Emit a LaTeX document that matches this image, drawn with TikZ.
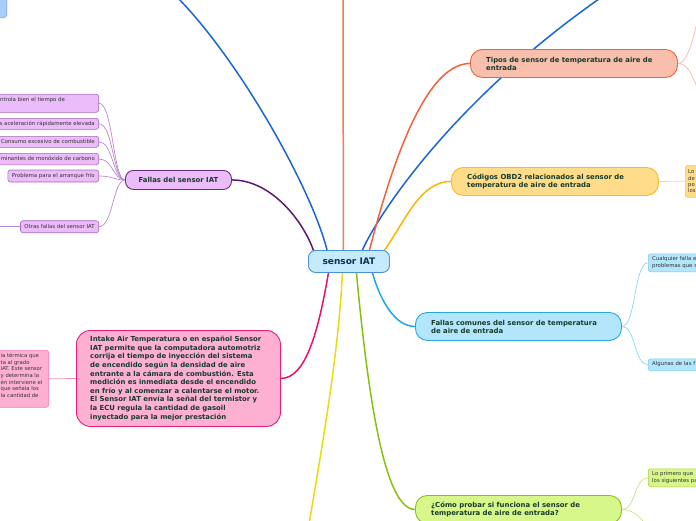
\documentclass[tikz,border=0pt]{standalone}
\usepackage{fontspec}
\setmainfont{DejaVu Sans}
\usetikzlibrary{calc}
\pgfdeclarelayer{bg}
\pgfsetlayers{bg,main}
\definecolor{txt}{HTML}{173A2B}
\definecolor{ctrtxt}{HTML}{14305A}
\definecolor{leaftxt}{HTML}{333333}
\definecolor{ctrfill}{HTML}{C4EAFB}
\definecolor{ctrdraw}{HTML}{4A92CF}
\definecolor{purfill}{HTML}{EBBCF9}
\definecolor{purdraw}{HTML}{6A2A80}
\definecolor{purleafdraw}{HTML}{A468C0}
\definecolor{purline}{HTML}{5A1A6E}
\definecolor{purlight}{HTML}{B888CC}
\definecolor{pinkfill}{HTML}{FEB0D3}
\definecolor{pinkdraw}{HTML}{EA1E78}
\definecolor{pinkleafdraw}{HTML}{F27AB0}
\definecolor{pinkline}{HTML}{EC0E6E}
\definecolor{pinklight}{HTML}{F490BC}
\definecolor{salfill}{HTML}{F9BFAD}
\definecolor{saldraw}{HTML}{F0643C}
\definecolor{salline}{HTML}{F4603A}
\definecolor{sallight}{HTML}{F8B8A4}
\definecolor{orvert}{HTML}{F47A50}
\definecolor{yelfill}{HTML}{FEDC8A}
\definecolor{yeldraw}{HTML}{F9B928}
\definecolor{yelleafdraw}{HTML}{F8C850}
\definecolor{yelline}{HTML}{FFB400}
\definecolor{yellight}{HTML}{FDD88A}
\definecolor{cyfill}{HTML}{B3E6FB}
\definecolor{cydraw}{HTML}{2AA4E4}
\definecolor{cyleafdraw}{HTML}{7CC8F0}
\definecolor{cyline}{HTML}{1AA8EC}
\definecolor{cylight}{HTML}{8ED4F4}
\definecolor{grfill}{HTML}{D8F78A}
\definecolor{grdraw}{HTML}{8CBF1E}
\definecolor{grleafdraw}{HTML}{A8D050}
\definecolor{grline}{HTML}{88C010}
\definecolor{grlight}{HTML}{C4E480}
\definecolor{blline}{HTML}{1A64D8}
\definecolor{blfill}{HTML}{A9CDFB}
\definecolor{bldraw}{HTML}{7AAAF0}
\definecolor{ytline}{HTML}{E8DC10}
\tikzset{
  mainbox/.style={draw, line width=0.9pt, rounded corners=12pt, anchor=north west, inner sep=0pt},
  leafbox/.style={draw, line width=0.6pt, rounded corners=2.5pt, inner sep=0pt},
  maintext/.style={anchor=west, inner sep=0pt, align=left, text=txt, font=\bfseries\fontsize{6.9}{8}\selectfont},
  leaftext/.style={anchor=west, inner sep=0pt, align=left, text=leaftxt, font=\fontsize{5.4}{6.7}\selectfont},
  conn/.style={line width=1.5pt},
  sub/.style={line width=0.7pt},
}
\begin{document}
\begin{tikzpicture}[x=1pt,y=-1pt]
\useasboundingbox (0,0) rectangle (696,520);
\begin{scope}
\clip (0,0) rectangle (696,520);
% centre
\node[draw=ctrdraw, fill=ctrfill, line width=0.9pt, rounded corners=7pt, minimum width=81pt, minimum height=22pt, inner sep=0pt, anchor=north west, text=ctrtxt, font=\bfseries\fontsize{9}{10}\selectfont] (c) at (308,250) {sensor IAT};
% top-left partial node
\node[leafbox, fill=blfill, draw=bldraw, anchor=south east, minimum width=30pt, minimum height=30pt, rounded corners=3pt] (tl) at (7,18) {};
% Fallas del sensor IAT
\node[mainbox, fill=purfill, draw=purdraw, rounded corners=8pt, minimum width=106pt, minimum height=19pt, text=txt, font=\bfseries\fontsize{6.9}{8}\selectfont] (fi) at (125,170) {Fallas del sensor IAT};
\node[leafbox, fill=purfill, draw=purleafdraw, anchor=north east, minimum width=115pt, minimum height=18pt] (fa) at (99,94) {};
\node[leaftext] (fat) at (0,100) {ntrola bien el tiempo de};
\node[leafbox, fill=purfill, draw=purleafdraw, anchor=north east, minimum width=115pt, minimum height=11pt] (fb) at (99,118) {};
\node[leaftext, anchor=east] (fbt) at (95,123.5) {s aceleración rápidamente elevada};
\node[leafbox, fill=purfill, draw=purleafdraw, anchor=north east, minimum width=115pt, minimum height=11pt] (fc) at (99,136) {};
\node[leaftext, anchor=east] (fct) at (95,141.5) {Consumo excesivo de combustible};
\node[leafbox, fill=purfill, draw=purleafdraw, anchor=north east, minimum width=115pt, minimum height=11.5pt] (fd) at (99,153) {};
\node[leaftext, anchor=east] (fdt) at (95,158.7) {minantes de monóxido de carbono};
\node[leafbox, fill=purfill, draw=purleafdraw, anchor=east, minimum height=12pt, inner xsep=4pt, text=leaftxt, font=\fontsize{5.4}{6.7}\selectfont] (fe) at (99,176) {Problema para el arranque frío};
\node[leafbox, fill=purfill, draw=purleafdraw, anchor=east, minimum height=12pt, inner xsep=4pt, text=leaftxt, font=\fontsize{5.4}{6.7}\selectfont] (ff) at (99,226.7) {Otras fallas del sensor IAT};
% Intake
\node[mainbox, fill=pinkfill, draw=pinkdraw, rounded corners=14pt, minimum width=204pt, minimum height=96pt] (in) at (76,330) {};
\node[maintext, font=\bfseries\fontsize{6.9}{8.6}\selectfont] (int) at (90,378.5) {Intake Air Temperatura o en español Sensor\\IAT permite que la computadora automotriz\\corrija el tiempo de inyección del sistema\\de encendido según la densidad de aire\\entrante a la cámara de combustión. Esta\\medición es inmediata desde el encendido\\en frío y al comenzar a calentarse el motor.\\El Sensor IAT envía la señal del termistor y\\la ECU regula la cantidad de gasoil\\inyectado para la mejor prestación};
\node[leafbox, fill=pinkfill, draw=pinkleafdraw, anchor=north east, minimum width=60pt, minimum height=57pt] (ic) at (49,350) {};
\node[leaftext, font=\fontsize{5.3}{6.7}\selectfont] (ict) at (0.5,375.5) {ia térmica que\\ta al grado\\IAT. Este sensor\\y determina la\\én interviene el\\que señala los\\la cantidad de};
% Tipos
\node[mainbox, fill=salfill, draw=saldraw, minimum width=207pt, minimum height=28pt] (tp) at (470,49) {};
\node[maintext] (tpt) at (486,63.5) {Tipos de sensor de temperatura de aire de\\entrada};
% Codigos
\node[mainbox, fill=yelfill, draw=yeldraw, minimum width=207pt, minimum height=28pt] (cd) at (451,167) {};
\node[maintext] (cdt) at (467,181.5) {Códigos OBD2 relacionados al sensor de\\temperatura de aire de entrada};
\node[leafbox, fill=yelfill, draw=yelleafdraw, anchor=north west, minimum width=30pt, minimum height=32pt] (cdl) at (685,165) {};
\node[leaftext, font=\fontsize{5.3}{6.3}\selectfont] (cdlt) at (688,181.5) {Lo\\de\\po\\los};
% Fallas comunes
\node[mainbox, fill=cyfill, draw=cydraw, minimum width=206pt, minimum height=28pt] (fcm) at (415,312) {};
\node[maintext] (fcmt) at (431,326.5) {Fallas comunes del sensor de temperatura\\de aire de entrada};
\node[leafbox, fill=cyfill, draw=cyleafdraw, anchor=north west, minimum width=60pt, minimum height=18pt] (fc1) at (648,253.5) {};
\node[leaftext] (fc1t) at (652,262.5) {Cualquier falla e\\problemas que s};
\node[leafbox, fill=cyfill, draw=cyleafdraw, anchor=north west, minimum width=60pt, minimum height=12pt] (fc2) at (648,358.5) {};
\node[leaftext] (fc2t) at (652,364.5) {Algunas de las f};
% Probar
\node[mainbox, fill=grfill, draw=grdraw, minimum width=206pt, minimum height=28pt] (pr) at (415,495) {};
\node[maintext] (prt) at (431,509.5) {¿Cómo probar si funciona el sensor de\\temperatura de aire de entrada?};
\node[leafbox, fill=grfill, draw=grleafdraw, anchor=north west, minimum width=60pt, minimum height=18pt] (pr1) at (648,468.5) {};
\node[leaftext] (pr1t) at (652,477.5) {Lo primero que\\los siguientes pa};
% free ends
\coordinate (tlend) at (175,-5);
\coordinate (trend) at (612,-10);
\coordinate (topend) at (343,-5);
\coordinate (botend) at (308,530);
\coordinate (tpup) at (702,2);
\coordinate (tpdn) at (702,98);
\coordinate (prdn) at (652,532);
\coordinate (otend) at (-5,226.7);
\end{scope}
\begin{pgfonlayer}{bg}
\clip (0,0) rectangle (696,520);
\draw[conn, purline] (fi.east) .. controls +(40,0) and +(-10,-30) .. ($(c.north west)+(6,2)$);
\draw[conn, blline] ($(c.north west)+(19,0)$) .. controls +(-15,-60) and +(65,65) .. (tlend);
\draw[conn, orvert] ($(c.north)+(-5.5,0)$) -- (topend);
\draw[conn, blline] ($(c.north)+(13.5,0)$) .. controls +(13,-30) and +(-162,110) .. (trend);
\draw[conn, salline] ($(c.north)+(20.5,0)$) .. controls +(16,-60) and +(-50,0) .. (tp.west);
\draw[conn, yelline] ($(c.north east)+(-6,1)$) .. controls +(22,-31) and +(-31,0) .. (cd.west);
\draw[conn, cyline] ($(c.south)+(23.5,0)$) .. controls +(8,28) and +(-20,0) .. (fcm.west);
\draw[conn, grline] ($(c.south)+(7.5,0)$) .. controls +(12,128) and +(-30,0) .. (pr.west);
\draw[conn, ytline] ($(c.south)+(-6.5,0)$) .. controls +(-4,78) and +(17,-100) .. (botend);
\draw[conn, pinkline] ($(c.south)+(-20.5,0)$) .. controls +(-10,58) and +(25,0) .. (in.east);
\foreach \n in {fa,fb,fc,fd,fe,ff}
  \draw[sub, purlight] (fi.west) .. controls +(-12,0) and +(14,0) .. (\n.east);
\draw[sub, purlight] (ff.west) -- (otend);
\draw[sub, pinklight] (in.west) -- (ic.east);
\draw[sub, sallight] (tp.east) .. controls +(12,0) and +(-6,22) .. (tpup);
\draw[sub, sallight] (tp.east) .. controls +(12,0) and +(-10,-20) .. (tpdn);
\draw[sub, yellight] (cd.east) -- (cdl.west);
\draw[sub, cylight] (fcm.east) .. controls +(14,0) and +(-14,0) .. (fc1.west);
\draw[sub, cylight] (fcm.east) .. controls +(14,0) and +(-14,0) .. (fc2.west);
\draw[sub, grlight] (pr.east) .. controls +(14,0) and +(-14,0) .. (pr1.west);
\draw[sub, grlight] (pr.east) .. controls +(14,0) and +(-8,-10) .. (prdn);
\end{pgfonlayer}
\end{tikzpicture}
\end{document}
